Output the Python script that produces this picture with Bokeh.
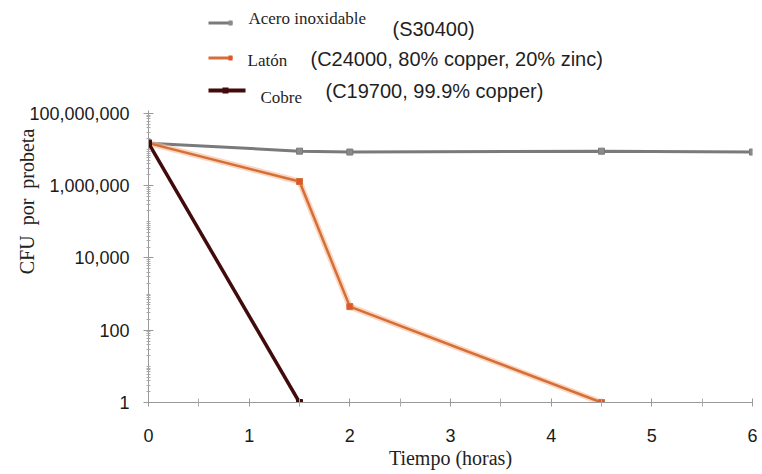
import math
from bokeh.plotting import figure
from bokeh.models import FixedTicker, NumeralTickFormatter, Label, BoxAnnotation, Range1d
from bokeh.embed import file_html
from bokeh.resources import INLINE

# ---- data ----
hours_acero = [0, 1.5, 2, 4.5, 6]
cfu_acero = [15e6, 9e6, 8.5e6, 9e6, 8.5e6]
hours_laton = [0, 1.5, 2, 4.5]
cfu_laton = [15e6, 1.3e6, 450, 1]
hours_cobre = [0, 1.5]
cfu_cobre = [15e6, 1]

x_ticks = [0, 1, 2, 3, 4, 5, 6]
x_minor = [0.5, 1.5, 2.5, 3.5, 4.5, 5.5]
y_ticks = [1, 100, 10000, 1000000, 100000000]

names = ["Acero inoxidable", "Latón", "Cobre"]
codes = ["(S30400)", "(C24000, 80% copper, 20% zinc)", "(C19700, 99.9% copper)"]
x_title = "Tiempo (horas)"
y_title = "CFU\u2002por\u2002probeta"

GRAY = "#7a7a7a"
ORANGE = "#d46f38"
ORANGE_HALO = "#f8b992"
BROWN = "#420b0b"

# layout: frame spans from the top of the figure down to the x axis
H, W = 472, 760
B_BOTTOM, B_LEFT, B_RIGHT = 70, 148, 8
frame_h = H - B_BOTTOM
axis_top = 1.2e8
axis_px = frame_h - 110  # visible log axis runs from the x axis up to y=110px
y_end = 10 ** (math.log10(axis_top) * frame_h / axis_px)

p = figure(width=W, height=H, y_axis_type="log",
           x_range=Range1d(0, 6), y_range=Range1d(1, y_end),
           output_backend="svg", toolbar_location=None,
           min_border_left=B_LEFT, min_border_right=B_RIGHT,
           min_border_top=0, min_border_bottom=B_BOTTOM)
p.outline_line_color = None
p.xgrid.visible = False
p.ygrid.visible = False
p.background_fill_color = "white"
p.border_fill_color = "white"

# series
p.line(hours_acero, cfu_acero, line_color=GRAY, line_width=3)
p.scatter(hours_acero, cfu_acero, marker="square", size=6, fill_color="#8a8a8a", line_color=GRAY)

p.line(hours_laton, cfu_laton, line_color=ORANGE_HALO, line_width=6, line_alpha=0.6)
p.line(hours_laton, cfu_laton, line_color=ORANGE, line_width=2.5)
p.scatter(hours_laton, cfu_laton, marker="square", size=6, fill_color="#e0552a", line_color=ORANGE)

p.line(hours_cobre, cfu_cobre, line_color=BROWN, line_width=3.5)
p.scatter(hours_cobre, cfu_cobre, marker="square", size=6, fill_color=BROWN, line_color=BROWN)

# axes
minor_y = [k * 10 ** n for n in range(0, 8) for k in range(1, 10) if k * 10 ** n not in y_ticks]
p.yaxis.ticker = FixedTicker(ticks=y_ticks, minor_ticks=minor_y)
p.yaxis.formatter = NumeralTickFormatter(format="0,0")
p.yaxis.bounds = (1, axis_top)
p.xaxis.ticker = FixedTicker(ticks=x_ticks, minor_ticks=x_minor)

for ax in (p.xaxis[0], p.yaxis[0]):
    ax.axis_line_color = "#9a9a9a"
    ax.major_tick_line_color = "#9a9a9a"
    ax.minor_tick_line_color = "#aaaaaa"
    ax.major_label_text_font = "Liberation Sans"
    ax.major_label_text_font_size = "18px"
    ax.major_label_text_color = "#1a1a1a"
    ax.axis_label_text_font = "Liberation Serif"
    ax.axis_label_text_font_size = "20px"
    ax.axis_label_text_font_style = "normal"
    ax.axis_label_text_color = "#222222"

p.xaxis.major_tick_in = 4
p.xaxis.major_tick_out = 4
p.xaxis.minor_tick_in = 4
p.xaxis.minor_tick_out = 4
p.xaxis.major_label_standoff = 22
p.xaxis.axis_label = x_title
p.xaxis.axis_label_standoff = 2

p.yaxis.major_tick_in = 5
p.yaxis.major_tick_out = 5
p.yaxis.minor_tick_in = 2
p.yaxis.minor_tick_out = 2
p.yaxis.major_label_standoff = 14
p.yaxis.axis_label = y_title
p.yaxis.axis_label_standoff = -12

# ---- legend (screen units: from frame's bottom-left, y up) ----
def text(x, y, t, font, size):
    p.add_layout(Label(x=x, y=y, x_units="screen", y_units="screen", text=t,
                       text_font=font, text_font_size=f"{size}px",
                       text_baseline="middle", text_align="left", text_color="#1f1f1f"))

def box(l, r, b, t, color):
    p.add_layout(BoxAnnotation(left=l, right=r, bottom=b, top=t,
                               left_units="screen", right_units="screen",
                               bottom_units="screen", top_units="screen",
                               fill_color=color, fill_alpha=1, line_color=None, level="overlay"))

# Acero
box(60, 84, 378, 381, GRAY)
box(80, 84, 377, 382, "#8a8a8a")
text(100, 384, names[0], "Liberation Serif", 17)
text(244, 374, codes[0], "Liberation Sans", 20)
# Latón
box(60, 84, 343, 346, ORANGE)
box(80, 84, 342, 347, "#e0552a")
text(99, 342, names[1], "Liberation Serif", 17)
text(162, 344, codes[1], "Liberation Sans", 20)
# Cobre
box(60, 97, 310, 314, BROWN)
box(74, 80, 309, 315, BROWN)
text(112, 305, names[2], "Liberation Serif", 17)
text(177, 312, codes[2], "Liberation Sans", 20)

open("out.html", "w").write(file_html(p, INLINE))
